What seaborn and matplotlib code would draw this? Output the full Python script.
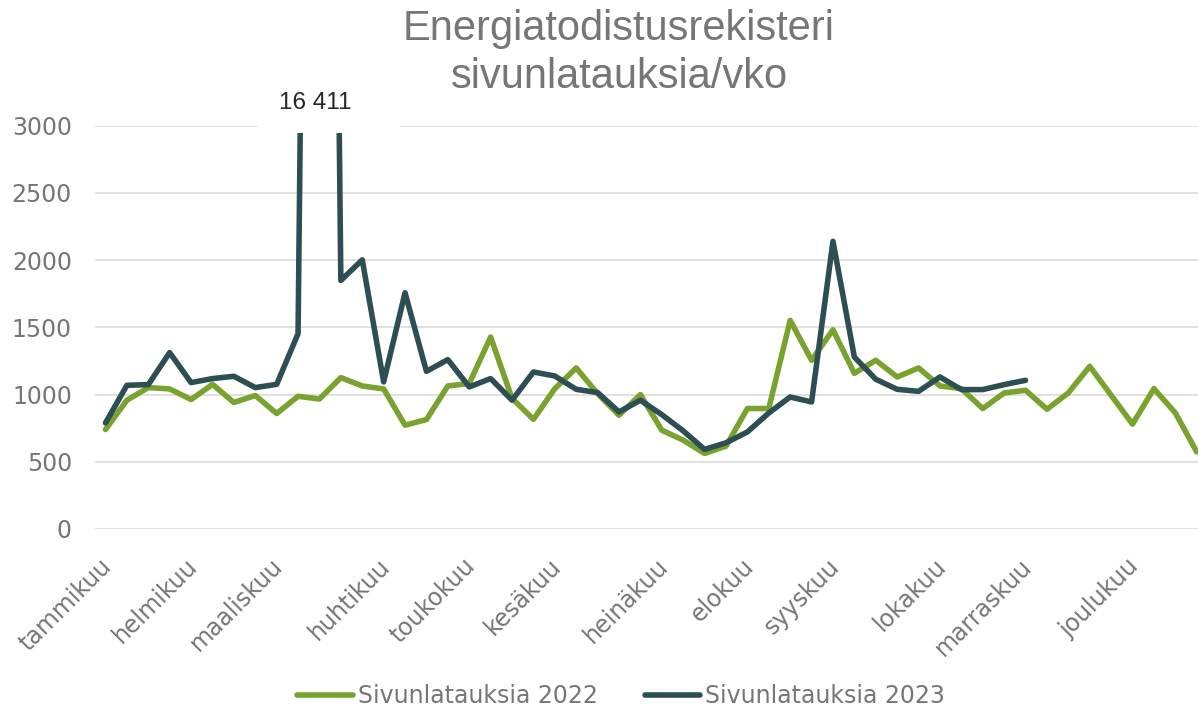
import numpy as np
import pandas as pd
import matplotlib
matplotlib.use("Agg")
import matplotlib.pyplot as plt
import matplotlib.transforms as mtransforms
from matplotlib.patches import Rectangle
import seaborn as sns

# ---- data ----
months = ["tammikuu", "helmikuu", "maaliskuu", "huhtikuu", "toukokuu", "kesäkuu",
          "heinäkuu", "elokuu", "syyskuu", "lokakuu", "marraskuu", "joulukuu"]
month_week_idx = [0, 4, 8, 13, 17, 21, 26, 30, 34, 39, 43, 48]

loads_2022 = [740, 958, 1052, 1042, 963, 1076, 941, 993, 859, 987, 967, 1126, 1064, 1042,
              772, 814, 1064, 1082, 1428, 972, 816, 1044, 1198, 1007, 846, 1000, 735, 661,
              562, 616, 896, 896, 1552, 1255, 1482, 1158, 1255, 1131, 1198, 1064, 1044, 896,
              1012, 1032, 891, 1012, 1210, 995, 780, 1044, 864, 574]
loads_2023 = [789, 1069, 1074, 1312, 1089, 1119, 1136, 1052, 1076, 1453, 16411, 1849, 2002,
              1094, 1757, 1173, 1260, 1057, 1119, 958, 1168, 1138, 1039, 1015, 871, 958, 851,
              730, 592, 641, 722, 863, 982, 945, 2140, 1279, 1114, 1039, 1024, 1131, 1037,
              1037, 1074, 1106]
series_names = ["Sivunlatauksia 2022", "Sivunlatauksia 2023"]
yticks = [0, 500, 1000, 1500, 2000, 2500, 3000]
title = "Energiatodistusrekisteri\nsivunlatauksia/vko"

df = pd.concat([
    pd.DataFrame({"week": range(len(loads_2022)), "value": loads_2022, "series": series_names[0]}),
    pd.DataFrame({"week": range(len(loads_2023)), "value": loads_2023, "series": series_names[1]}),
])

# ---- style ----
sns.set_theme(style="white")
plt.rcParams["font.family"] = ["DejaVu Sans"]
GRAY = "#767676"
palette = {series_names[0]: "#79A22F", series_names[1]: "#2D4F54"}
LW = 4.0

W, H = 1198, 709
fig = plt.figure(figsize=(W / 100, H / 100), dpi=100)
left, right, top, bottom = 94.8, 1207.4, 125.7, 529.0
ax = fig.add_axes([left / W, (H - bottom) / H, (right - left) / W, (bottom - top) / H])

sns.lineplot(data=df, x="week", y="value", hue="series", palette=palette, ax=ax,
             linewidth=LW, legend=True)
for ln in ax.lines:
    ln.set_solid_joinstyle("round")
    ln.set_solid_capstyle("round")

ax.set_xlim(-0.5, len(loads_2022) - 0.5)
ax.set_ylim(0, 3000)
ax.set_yticks(yticks)
ax.set_yticklabels([str(v) for v in yticks])
ax.yaxis.grid(True, color="#D9D9D9", linewidth=1.1)
ax.xaxis.grid(False)
for s in ax.spines.values():
    s.set_visible(False)
ax.set_xlabel("")
ax.set_ylabel("")
ax.tick_params(axis="y", length=0, pad=16.5, labelsize=17, labelcolor=GRAY)
ax.tick_params(axis="x", length=0, pad=18, labelsize=17, labelcolor=GRAY)

ax.set_xticks(month_week_idx)
ax.set_xticklabels(months, rotation=45, ha="right", va="top", rotation_mode="anchor")
offset = mtransforms.ScaledTranslation(-6 / 100, 0, fig.dpi_scale_trans)
for lbl in ax.get_xticklabels():
    lbl.set_transform(lbl.get_transform() + offset)

# data label for the clipped peak
peak_i = int(np.argmax(loads_2023))
peak_v = loads_2023[peak_i]
blend = mtransforms.blended_transform_factory(ax.transData, ax.transAxes)
ax.add_patch(Rectangle((peak_i - 2.87, (bottom - 133) / (bottom - top)), 6.63, 0.2,
                       transform=blend, facecolor="white", edgecolor="none",
                       clip_on=False, zorder=5))
ax.text(peak_i - 0.2, 1 + 22.7 / (bottom - top), f"{peak_v:,}".replace(",", " "),
        transform=blend, ha="center", va="center", fontsize=17.5,
        family=["Liberation Sans", "DejaVu Sans"], color="#262626", zorder=6)

# title
fig.text(619 / W, 1 - 53 / H, title, ha="center", va="center", fontsize=30,
         family=["Liberation Sans", "DejaVu Sans"], color=GRAY, linespacing=1.25)

# legend
handles, labels = ax.get_legend_handles_labels()
ax.get_legend().remove()
leg = fig.legend(handles, labels, loc="center", bbox_to_anchor=(621 / W, 13 / H), ncol=2,
                 frameon=False, fontsize=17, handlelength=2.35, handletextpad=0.2,
                 columnspacing=2.0, borderaxespad=0)
for t in leg.get_texts():
    t.set_color(GRAY)
for h in leg.get_lines():
    h.set_linewidth(LW)
    h.set_solid_capstyle("round")

fig.savefig("out.png", dpi=100)
